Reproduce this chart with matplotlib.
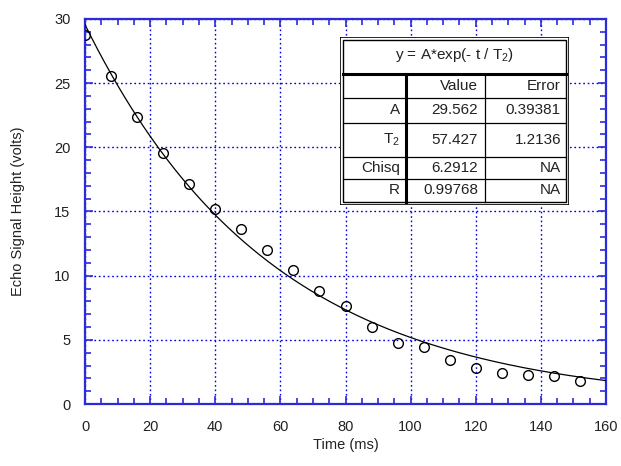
import numpy as np
import matplotlib
matplotlib.use('Agg')
import matplotlib.pyplot as plt
from matplotlib.ticker import MultipleLocator

plt.rcParams['font.family'] = ['Liberation Sans', 'DejaVu Sans']
plt.rcParams['mathtext.fontset'] = 'custom'
plt.rcParams['mathtext.rm'] = 'Liberation Sans'
plt.rcParams['mathtext.it'] = 'Liberation Sans'

# ========================== ECHO DATA ====================================== #
time_ms = [0, 8, 16, 24, 32, 40, 48, 56, 64, 72,
           80, 88, 96, 104, 112, 120, 128, 136, 144, 152]
echo_volts = [28.76, 25.55, 22.4, 19.58, 17.18, 15.18, 13.6, 11.98, 10.42, 8.8,
              7.63, 6.03, 4.77, 4.47, 3.43, 2.83, 2.39, 2.23, 2.2, 1.79]

# fit results
fit_A = 29.562
fit_T2 = 57.427
row_labels = ['A', 'T$_2$', 'Chisq', 'R']
row_values = ['29.562', '57.427', '6.2912', '0.99768']
row_errors = ['0.39381', '1.2136', 'NA', 'NA']

W, H = 621, 466
blue = '#2b2bd9'
fig = plt.figure(figsize=(W / 100, H / 100), dpi=100)

# ========================== MAIN PLOT ====================================== #
ax = fig.add_axes([85 / W, 1 - 404 / H, (606 - 85) / W, (404 - 19) / H])
t_fit = np.linspace(0, 160, 400)
ax.plot(t_fit, fit_A * np.exp(-t_fit / fit_T2), color='black', lw=0.9, zorder=3)
ax.plot(time_ms, echo_volts, 'o', mfc='none', mec='black', ms=7, mew=1.0, zorder=4)

ax.set_xlim(0, 160)
ax.set_ylim(0, 30)
ax.xaxis.set_major_locator(MultipleLocator(20))
ax.xaxis.set_minor_locator(MultipleLocator(5))
ax.yaxis.set_major_locator(MultipleLocator(5))
ax.yaxis.set_minor_locator(MultipleLocator(1))
ax.grid(True, which='major', color='#0000e0', linestyle=(0, (1.2, 2)), lw=1.0)
ax.tick_params(which='both', direction='in', top=True, right=True,
               color=blue, labelsize=10.5, labelcolor='#222222', width=1.2)
ax.tick_params(which='major', length=6)
ax.tick_params(which='minor', length=4)
ax.tick_params(axis='x', which='major', pad=11.5)
ax.tick_params(axis='y', which='major', pad=10.5)
for s in ax.spines.values():
    s.set_color(blue)
    s.set_linewidth(1.6)
ax.set_xlabel('Time (ms)', fontsize=10.5, labelpad=3, color='#222222')
ax.set_ylabel('Echo Signal Height (volts)', fontsize=10.5, labelpad=21, color='#222222')

# ========================== FIT TABLE ====================================== #
tx0, tx1, ty0, ty1 = 340, 569, 37, 205
tab = fig.add_axes([tx0 / W, 1 - ty1 / H, (tx1 - tx0) / W, (ty1 - ty0) / H])
tab.set_xlim(tx0, tx1)
tab.set_ylim(ty1, ty0)
tab.axis('off')
tab.add_patch(plt.Rectangle((tx0, ty0), tx1 - tx0, ty1 - ty0, facecolor='white',
                            edgecolor='black', lw=1.2, zorder=1))
tab.add_patch(plt.Rectangle((tx0 + 2.8, ty0 + 2.8), tx1 - tx0 - 5.6, ty1 - ty0 - 5.6,
                            facecolor='none', edgecolor='black', lw=1.0, zorder=2))

col_x = [406, 485]
row_y = [74, 98, 123, 157, 179]
tab.plot([tx0 + 3, tx1 - 3], [row_y[0]] * 2, color='black', lw=2.2)
for y in row_y[1:]:
    tab.plot([tx0 + 3, tx1 - 3], [y, y], color='black', lw=0.9)
tab.plot([col_x[0]] * 2, [row_y[0], ty1 - 3], color='black', lw=2.2)
tab.plot([col_x[1]] * 2, [row_y[0], ty1 - 3], color='black', lw=0.9)

fs = 11
tc = '#222222'
tab.text((tx0 + tx1) / 2, 55, 'y = A*exp(- t / T$_2$)', ha='center', va='center',
         fontsize=fs, color=tc)
tab.text(478, 86, 'Value', ha='right', va='center', fontsize=fs, color=tc)
tab.text(561, 86, 'Error', ha='right', va='center', fontsize=fs, color=tc)
for i, (lab, val, err) in enumerate(zip(row_labels, row_values, row_errors)):
    yc = (row_y[i + 1] + (row_y[i + 2] if i + 2 < len(row_y) else ty1 - 3)) / 2
    tab.text(400, yc, lab, ha='right', va='center', fontsize=fs, color=tc)
    tab.text(478, yc, val, ha='right', va='center', fontsize=fs, color=tc)
    tab.text(561, yc, err, ha='right', va='center', fontsize=fs, color=tc)

fig.savefig('out.png', dpi=100)
